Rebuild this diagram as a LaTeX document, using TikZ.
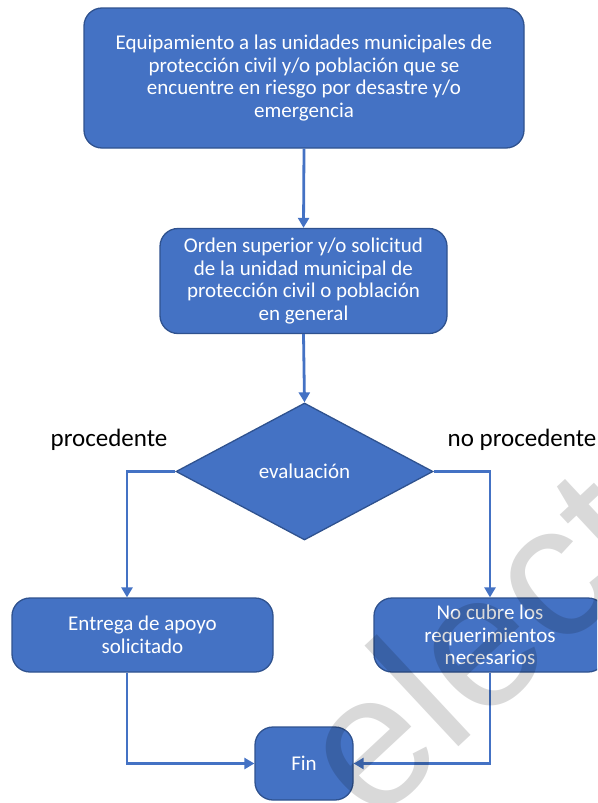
\documentclass[tikz,border=0pt]{standalone}
\usepackage{fontspec}
\setmainfont{Carlito}
\newfontfamily\wmfont{Liberation Sans}
\usetikzlibrary{shapes.geometric,arrows.meta}
\definecolor{boxblue}{HTML}{4472C4}
\definecolor{boxedge}{HTML}{2F528F}
\tikzset{
  procbox/.style={draw=boxedge, line width=1.3pt, fill=boxblue, rounded corners=18pt,
    text=white, align=center, inner sep=0pt, font=\fontsize{21}{22.7}\selectfont},
  decbox/.style={draw=boxedge, line width=1.3pt, fill=boxblue, shape=diamond, inner sep=0pt,
    text=white, font=\fontsize{21}{22.7}\selectfont},
  conn/.style={draw=boxblue, line width=2.8pt, -{Triangle[length=10pt,width=11pt]}},
  lbl/.style={text=black, font=\fontsize{25}{28}\selectfont, inner sep=0pt}
}
\begin{document}
\begin{tikzpicture}[x=1pt,y=-1pt]
\useasboundingbox (0,0) rectangle (597,803);
\clip (0,0) rectangle (597,803);
\node[procbox, minimum width=440pt, minimum height=140pt] (b1) at (304,78)
  {Equipamiento a las unidades municipales de\\protección civil y/o población que se\\encuentre en riesgo por desastre y/o\\emergencia};
\node[procbox, minimum width=287pt, minimum height=105pt] (b2) at (303.5,281)
  {Orden superior y/o solicitud\\de la unidad municipal de\\protección civil o población\\en general};
\node[decbox, minimum width=257pt, minimum height=137pt] (d) at (304.5,471.5) {evaluación};
\node[procbox, minimum width=261pt, minimum height=74pt] (b3) at (142.5,635)
  {Entrega de apoyo\\solicitado};
\node[procbox, minimum width=232pt, minimum height=74pt] (b4) at (490,635)
  {No cubre los\\requerimientos\\necesarios};
\node[procbox, minimum width=98pt, minimum height=73pt] (fin) at (304,763.5) {Fin};
\node[lbl] (lp) at (109,440) {procedente};
\node[lbl] (lnp) at (522,440) {no procedente};
\coordinate (lx) at (127,0);
\draw[conn] (b1.south) -- (b2.north);
\draw[conn] (b2.south) -- (d.north);
\draw[conn] (d.west) -| (lx |- b3.north);
\draw[conn] (d.east) -| (b4.north);
\draw[conn] (lx |- b3.south) |- (fin.west);
\draw[conn] (b4.south) |- (fin.east);
\node[anchor=base west, rotate=43, inner sep=0pt, text=black, text opacity=0.15,
  font=\wmfont\fontsize{190}{190}\selectfont] (wm) at (372,828) {elect};
\end{tikzpicture}
\end{document}
